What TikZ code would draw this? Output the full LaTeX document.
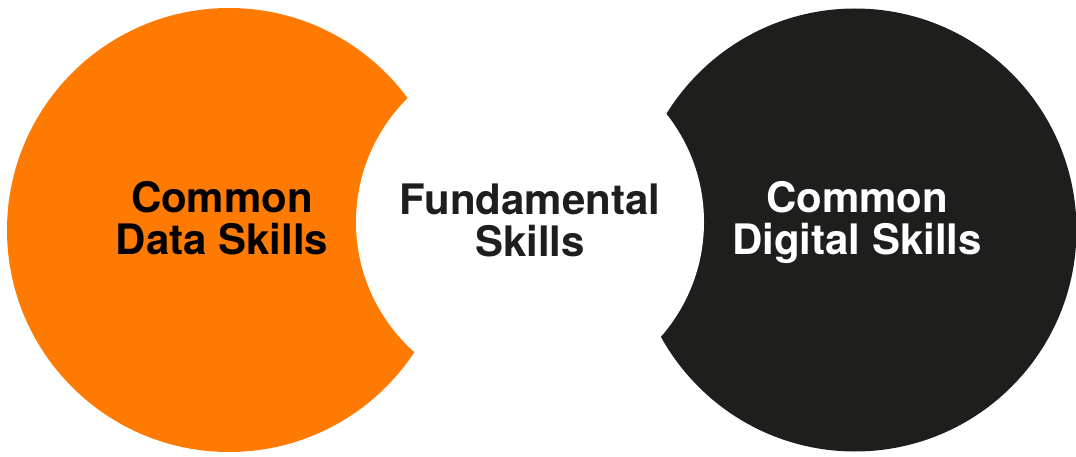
\documentclass[tikz,border=0pt]{standalone}
\usepackage{fontspec}
\setmainfont{TeX Gyre Heros}
\usetikzlibrary{positioning}
\definecolor{skillorange}{HTML}{FF7A00}
\definecolor{skillblack}{HTML}{1E1E1C}

\begin{document}
\begin{tikzpicture}[x=1pt,y=-1pt,
    disc/.style={circle, inner sep=0pt, minimum size=#1},
    skill/.style={align=center, inner sep=0pt, font=\fontsize{42}{42}\selectfont\bfseries}]
        \useasboundingbox (0,0) rectangle (1076,457);
        \node[disc=444pt, fill=skillorange] (datadisc) at (229,230) {};
        \node[disc=443pt, fill=skillblack] (digitaldisc) at (855,230) {};
        \node[disc=348pt, fill=white] (basedisc) at (530,222) {};
        \node[skill, text=black] (data) at (222,218) {Common\\Data Skills};
        \node[skill, text=skillblack] (fundamental) at (530,220.5) {Fundamental\\Skills};
        \node[skill, text=white] (digital) at (857,223) {Common\\Digital Skills};
    \end{tikzpicture}
\end{document}
